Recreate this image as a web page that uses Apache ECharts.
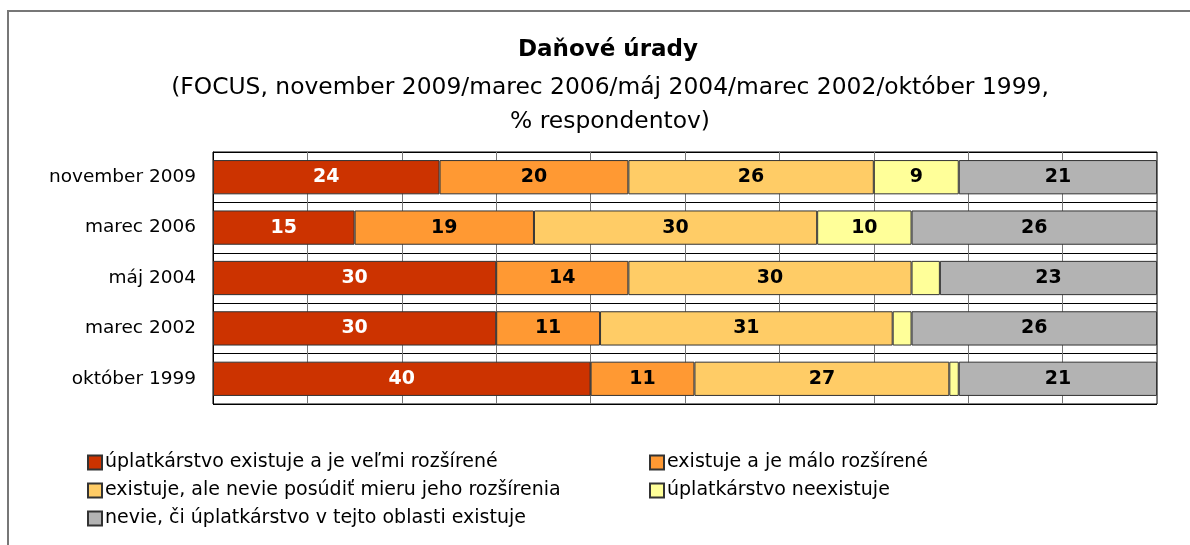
<!DOCTYPE html>
<html>
<head>
<meta charset="utf-8">
<script src="https://cdn.jsdelivr.net/npm/echarts@6/dist/echarts.min.js"></script>
<style>
  html, body { margin: 0; padding: 0; background: #fff; }
  #chart { width: 1190px; height: 545px; }
</style>
</head>
<body>
<div id="chart"></div>
<script>
// kategórie (zhora nadol)
const categories = ['november 2009', 'marec 2006', 'máj 2004', 'marec 2002', 'október 1999']
const seriesNames = [
  'úplatkárstvo existuje a je veľmi rozšírené',
  'existuje a je málo rozšírené',
  'existuje, ale nevie posúdiť mieru jeho rozšírenia',
  'úplatkárstvo neexistuje',
  'nevie, či úplatkárstvo v tejto oblasti existuje'
]
const velmiRozsirene = [24, 15, 30, 30, 40]
const maloRozsirene = [20, 19, 14, 11, 11]
const nevieMieru = [26, 30, 30, 31, 27]
const neexistuje = [9, 10, 3, 2, 1]
const nevie = [21, 26, 23, 26, 21]
const colors = ['#cc3300', '#ff9933', '#ffcc66', '#ffff99', '#b3b3b3']

const font = 'DejaVu Sans'
const values = [velmiRozsirene, maloRozsirene, nevieMieru, neexistuje, nevie]

const chart = echarts.init(document.getElementById('chart'))
chart.setOption({
  animation: false,
  textStyle: { fontFamily: font },
  title: [
    {
      text: 'Daňové úrady',
      left: 603, top: 34, textAlign: 'center',
      textStyle: { fontSize: 23, fontWeight: 'bold', color: '#000', fontFamily: font }
    },
    {
      text: '(FOCUS, november 2009/marec 2006/máj 2004/marec 2002/október 1999,\n% respondentov)',
      left: 605, top: 66, textAlign: 'center',
      textStyle: { fontSize: 23.4, lineHeight: 34, color: '#000', fontFamily: font, fontWeight: 'normal' }
    }
  ],
  graphic: [{
    type: 'rect', shape: { x: 8, y: 11, width: 1300, height: 600 },
    style: { fill: 'none', stroke: '#777', lineWidth: 2 }, silent: true
  }],
  legend: [
    {
      data: [seriesNames[0], seriesNames[2], seriesNames[4]],
      orient: 'vertical', left: 82, top: 448, itemGap: 9,
      itemWidth: 14, itemHeight: 14, icon: 'rect',
      textStyle: { fontSize: 19, color: '#000', fontFamily: font, padding: [0, 0, 0, -2] }
    },
    {
      data: [seriesNames[1], seriesNames[3]],
      orient: 'vertical', left: 644, top: 448, itemGap: 9,
      itemWidth: 14, itemHeight: 14, icon: 'rect',
      textStyle: { fontSize: 19, color: '#000', fontFamily: font, padding: [0, 0, 0, -2] }
    }
  ],
  grid: {
    left: 213, right: 33, top: 152, height: 252,
    show: true, borderColor: '#000', borderWidth: 1, containLabel: false
  },
  xAxis: {
    type: 'value', min: 0, max: 100, interval: 10,
    axisLabel: { show: false }, axisTick: { show: false },
    axisLine: { show: false },
    splitLine: { show: true, lineStyle: { color: '#777', width: 1 } }
  },
  yAxis: {
    type: 'category', data: categories, inverse: true,
    axisTick: { show: false },
    axisLine: { show: true, lineStyle: { color: '#000' } },
    axisLabel: { fontSize: 18.5, color: '#000', margin: 17, fontFamily: font },
    splitLine: { show: true, lineStyle: { color: '#000', width: 1 } }
  },
  series: values.map((v, i) => ({
    name: seriesNames[i],
    type: 'bar', stack: 'total', data: v,
    barCategoryGap: '32%',
    itemStyle: { color: colors[i], borderColor: '#333', borderWidth: 1 },
    label: {
      show: true, position: 'inside',
      fontSize: 19, fontWeight: 'bold', fontFamily: font,
      color: i === 0 ? '#fff' : '#000',
      formatter: p => (p.value >= 5 ? p.value : '')
    }
  }))
})
</script>
</body>
</html>
